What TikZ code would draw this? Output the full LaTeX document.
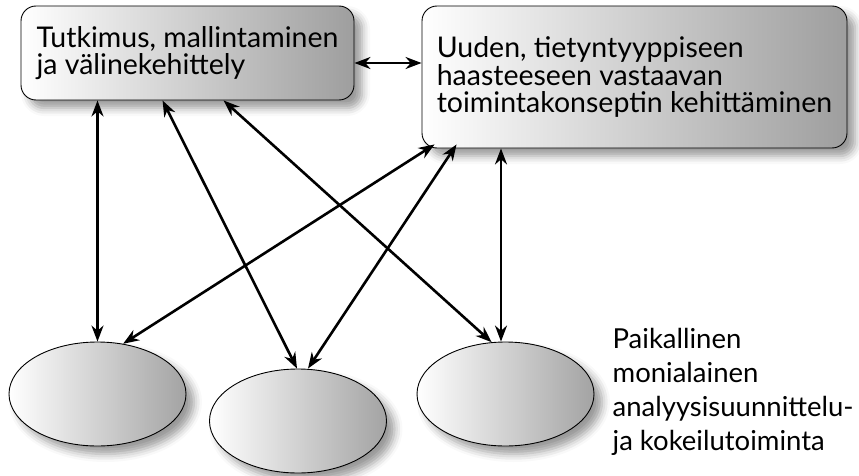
\documentclass[tikz,border=0pt]{standalone}
\usepackage{fontspec}
\setmainfont{Lato}
\usetikzlibrary{positioning, calc, shapes.geometric, shadows.blur, arrows.meta}

\begin{document}
\begin{tikzpicture}[
    x=1pt, y=-1pt,
    task/.style={rectangle, rounded corners=15pt, draw, line width=0.9pt, left color=white, right color=black!38,
        blur shadow={shadow xshift=8pt, shadow yshift=-8pt, shadow blur radius=8pt, shadow opacity=40},
        align=left, inner sep=0pt, font=\fontsize{28.5}{27.5}\selectfont},
    site/.style={ellipse, draw, line width=0.9pt, minimum width=177pt, minimum height=104pt, left color=white, right color=black!36,
        blur shadow={shadow xshift=8pt, shadow yshift=-8pt, shadow blur radius=8pt, shadow opacity=40}},
    note/.style={align=left, inner sep=0pt, font=\fontsize{27.5}{34}\selectfont},
    link/.style={{Stealth[length=16pt, width=12pt]}-{Stealth[length=16pt, width=12pt]}, line width=2.6pt}
]
    \useasboundingbox (0,0) rectangle (859,476);

    % Boxes
    \node[task, minimum width=333pt, minimum height=94pt] (research) at (187.5,53) {Tutkimus, mallintaminen\\ja välinekehittely};
    \node[task, minimum width=425pt, minimum height=142pt] (concept) at (634.5,77) {Uuden, tietyntyyppiseen\\haasteeseen vastaavan\\toimintakonseptin kehittäminen};

    % Local sites
    \node[site] (siteA) at (97.5,394) {};
    \node[site] (siteB) at (298,421) {};
    \node[site] (siteC) at (505.5,394) {};
    \node[note, right=18pt of siteC, yshift=2pt] (local) {Paikallinen\\monialainen\\analyysisuunnittelu-\\ja kokeilutoiminta};

    % Links
    \draw[link] ([yshift=-10pt]research.east) -- ([yshift=-10pt]research.east -| concept.west);
    \draw[link] (siteA.north |- research.south) -- (siteA.north);
    \draw[link] ([xshift=142pt]research.south west) -- ([xshift=-1pt]siteB.north);
    \draw[link] ([xshift=203pt]research.south west) -- (siteC.105);
    \draw[link] ([xshift=13pt, yshift=4pt]concept.south west) -- (siteA.63);
    \draw[link] ([xshift=35pt, yshift=4pt]concept.south west) -- ([xshift=10pt]siteB.north);
    \draw[link] ([xshift=-4.5pt]siteC.north |- concept.south) -- ([xshift=-4.5pt]siteC.north);
\end{tikzpicture}
\end{document}
